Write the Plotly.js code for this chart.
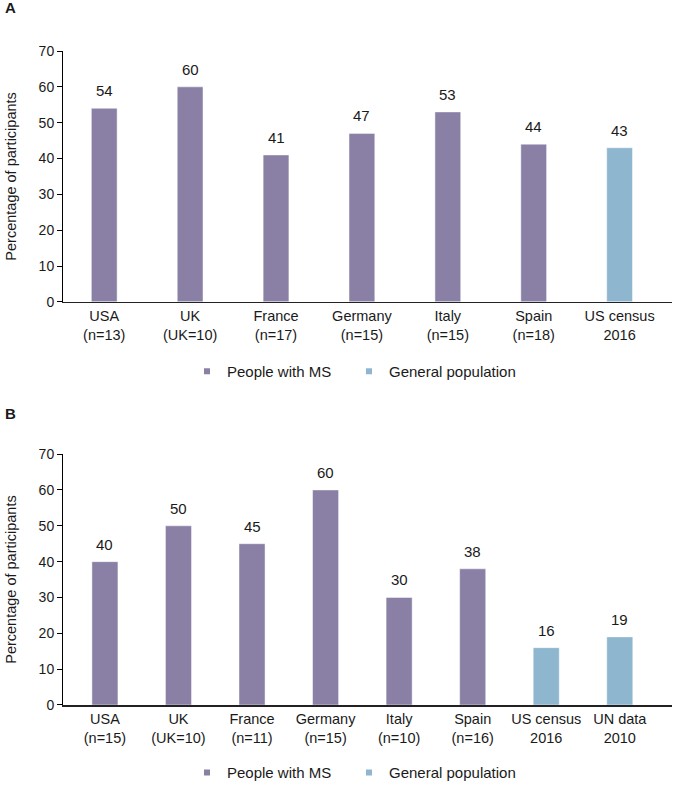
<!DOCTYPE html>
<html>
<head>
<meta charset="utf-8">
<script src="https://cdn.plot.ly/plotly-3.0.1.min.js"></script>
<style>html,body{margin:0;padding:0;background:#fff;}#chart{width:673px;height:790px;}</style>
</head>
<body>
<div id="chart"></div>
<script>
// Panel A data
const catsA = ['USA<br>(n=13)', 'UK<br>(UK=10)', 'France<br>(n=17)', 'Germany<br>(n=15)', 'Italy<br>(n=15)', 'Spain<br>(n=18)', 'US census<br>2016'];
const msCatsA = catsA.slice(0, 6);
const msValsA = [54, 60, 41, 47, 53, 44];
const genCatsA = catsA.slice(6);
const genValsA = [43];

// Panel B data
const catsB = ['USA<br>(n=15)', 'UK<br>(UK=10)', 'France<br>(n=11)', 'Germany<br>(n=15)', 'Italy<br>(n=10)', 'Spain<br>(n=16)', 'US census<br>2016', 'UN data<br>2010'];
const msCatsB = catsB.slice(0, 6);
const msValsB = [40, 50, 45, 60, 30, 38];
const genCatsB = catsB.slice(6);
const genValsB = [16, 19];

const seriesNames = ['People with MS', 'General population'];
const yTicks = [0, 10, 20, 30, 40, 50, 60, 70];

const PURPLE = '#8a80a5';
const BLUE = '#8fb6cf';
const FONT = 'Liberation Sans, Arial, sans-serif';
const TXT = '#1a1a1a';

function barTrace(x, y, color, xa, ya, w) {
  return {type: 'bar', x: x, y: y, xaxis: xa, yaxis: ya, width: w,
    marker: {color: color, line: {color: 'rgba(255,255,255,0.45)', width: 1}},
    showlegend: false, hoverinfo: 'x+y'};
}
function legendTrace(name, color, xa, ya, leg) {
  return {type: 'scatter', mode: 'markers', x: [null], y: [null], xaxis: xa, yaxis: ya,
    name: name, legend: leg, marker: {symbol: 'square', size: 6, color: color}, showlegend: true};
}

const data = [
  barTrace(msCatsA, msValsA, PURPLE, 'x', 'y', 0.30),
  barTrace(genCatsA, genValsA, BLUE, 'x', 'y', 0.30),
  barTrace(msCatsB, msValsB, PURPLE, 'x2', 'y2', 0.354),
  barTrace(genCatsB, genValsB, BLUE, 'x2', 'y2', 0.354),
  legendTrace(seriesNames[0], PURPLE, 'x', 'y', 'legend'),
  legendTrace(seriesNames[1], BLUE, 'x', 'y', 'legend2'),
  legendTrace(seriesNames[0], PURPLE, 'x2', 'y2', 'legend3'),
  legendTrace(seriesNames[1], BLUE, 'x2', 'y2', 'legend4')
];

function valueLabels(cats, vals, xref, yref) {
  return cats.map((c, i) => ({x: c, y: vals[i], xref: xref, yref: yref, text: String(vals[i]),
    showarrow: false, yanchor: 'bottom', yshift: 7, font: {family: FONT, size: 15, color: TXT}}));
}

const annotations = [].concat(
  valueLabels(msCatsA, msValsA, 'x', 'y'),
  valueLabels(genCatsA, genValsA, 'x', 'y'),
  valueLabels(msCatsB, msValsB, 'x2', 'y2'),
  valueLabels(genCatsB, genValsB, 'x2', 'y2'),
  [
    {text: '<b>A</b>', xref: 'paper', yref: 'paper', x: -0.0985, y: 1.083, xanchor: 'left', yanchor: 'top', showarrow: false, font: {family: FONT, size: 15, color: TXT}},
    {text: '<b>B</b>', xref: 'paper', yref: 'paper', x: -0.0985, y: 0.462, xanchor: 'left', yanchor: 'top', showarrow: false, font: {family: FONT, size: 15, color: TXT}}
  ]
);

function yAxis(domain, anchor) {
  return {domain: domain, anchor: anchor, range: [0, 70], tickvals: yTicks, ticktext: yTicks.map(String),
    ticks: 'outside', ticklen: 5, tickwidth: 1, tickcolor: '#000', showline: true, linecolor: '#000', linewidth: 1,
    showgrid: false, zeroline: false, tickfont: {family: FONT, size: 14, color: TXT},
    title: {text: 'Percentage of participants', font: {family: FONT, size: 14.5, color: TXT}, standoff: 18}, fixedrange: true};
}
function xAxis(cats, range, anchor) {
  return {anchor: anchor, domain: [0, 1], type: 'category', categoryorder: 'array', categoryarray: cats, range: range,
    showline: true, linecolor: '#222', linewidth: 1.5, ticks: '', showgrid: false, zeroline: false,
    tickfont: {family: FONT, size: 14.5, color: TXT}, fixedrange: true};
}

const legendBase = {orientation: 'h', xanchor: 'left', yanchor: 'middle', font: {family: FONT, size: 15, color: TXT},
  bgcolor: 'rgba(0,0,0,0)', borderwidth: 0, itemclick: false};

const layout = {
  width: 673, height: 790,
  margin: {l: 63, r: 1, t: 51, b: 82, pad: 0},
  paper_bgcolor: '#fff', plot_bgcolor: '#fff',
  font: {family: FONT, color: TXT},
  barmode: 'overlay',
  xaxis: xAxis(catsA, [-0.48, 6.61], 'y'),
  yaxis: yAxis([0.6164, 1], 'x'),
  xaxis2: xAxis(catsB, [-0.57, 7.71], 'y2'),
  yaxis2: yAxis([0, 0.3836], 'x2'),
  legend: Object.assign({}, legendBase, {x: 0.2036, y: 0.5099}),
  legend2: Object.assign({}, legendBase, {x: 0.4696, y: 0.5099}),
  legend3: Object.assign({}, legendBase, {x: 0.2036, y: -0.1035}),
  legend4: Object.assign({}, legendBase, {x: 0.4696, y: -0.1035}),
  annotations: annotations,
  showlegend: true
};

Plotly.newPlot('chart', data, layout, {displayModeBar: false, staticPlot: true});
</script>
</body>
</html>
